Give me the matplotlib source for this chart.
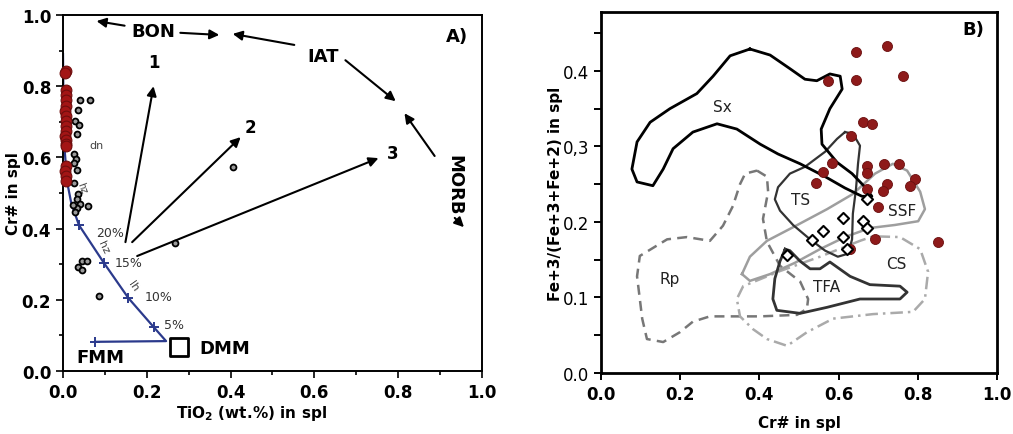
import numpy as np
import matplotlib
matplotlib.use('Agg')
import matplotlib.pyplot as plt
from matplotlib.ticker import MultipleLocator

# ---------------- Panel A data ----------------
# melting trend FMM -> DMM, then up through 5..20 % melting
melt_x = [0.077, 0.246, 0.216, 0.156, 0.098, 0.038, 0.020, 0.010, 0.004, 0.001, 0.000]
melt_y = [0.082, 0.084, 0.124, 0.205, 0.303, 0.410, 0.470, 0.530, 0.620, 0.750, 0.890]
tick_x = [0.077, 0.216, 0.156, 0.098, 0.038]
tick_y = [0.082, 0.124, 0.205, 0.303, 0.410]
melt_pct = ['5%', '10%', '15%', '20%']
pct_x = [0.266, 0.228, 0.156, 0.113]
pct_y = [0.130, 0.210, 0.305, 0.390]

red_a_x = [0.007, 0.005, 0.007, 0.006, 0.008, 0.007, 0.005, 0.007, 0.006, 0.008,
           0.007, 0.005, 0.007, 0.006, 0.008, 0.007, 0.005, 0.007, 0.006]
red_a_y = [0.843, 0.837, 0.790, 0.775, 0.761, 0.744, 0.730, 0.716, 0.702, 0.688,
           0.674, 0.660, 0.650, 0.638, 0.632, 0.576, 0.562, 0.548, 0.534]

blk_a_x = [0.041, 0.064, 0.036, 0.029, 0.038, 0.034, 0.026, 0.031, 0.026, 0.034, 0.026,
           0.036, 0.034, 0.041, 0.060, 0.034, 0.029, 0.024, 0.045, 0.057, 0.036, 0.045,
           0.087, 0.267, 0.405]
blk_a_y = [0.761, 0.761, 0.733, 0.702, 0.691, 0.666, 0.610, 0.596, 0.585, 0.565, 0.528,
           0.497, 0.483, 0.469, 0.463, 0.457, 0.446, 0.466, 0.310, 0.310, 0.292, 0.284,
           0.210, 0.360, 0.573]

# arrows: (start x, start y, end x, end y)
arrows_a = [(0.147, 0.970, 0.080, 0.983),   # BON left
            (0.280, 0.950, 0.373, 0.944),   # BON right
            (0.552, 0.916, 0.405, 0.947),   # IAT -> left
            (0.674, 0.873, 0.794, 0.758),   # IAT -> down
            (0.887, 0.604, 0.815, 0.724),   # MORB up
            (0.935, 0.430, 0.957, 0.404),   # MORB down
            (0.149, 0.362, 0.216, 0.800),   # 1
            (0.165, 0.362, 0.424, 0.657),   # 2
            (0.177, 0.323, 0.753, 0.598)]   # 3

# ---------------- Panel B data ----------------
sx_x = [0.376, 0.427, 0.477, 0.515, 0.545, 0.578, 0.604, 0.609, 0.578, 0.556, 0.558, 0.596,
        0.634, 0.667, 0.684, 0.659, 0.616, 0.566, 0.503, 0.447, 0.402, 0.343, 0.293, 0.232,
        0.182, 0.157, 0.131, 0.091, 0.078, 0.091, 0.124, 0.174, 0.242, 0.283, 0.326]
sx_y = [0.429, 0.421, 0.403, 0.389, 0.387, 0.396, 0.393, 0.376, 0.350, 0.323, 0.303, 0.279,
        0.264, 0.246, 0.234, 0.234, 0.245, 0.260, 0.277, 0.290, 0.303, 0.323, 0.330, 0.319,
        0.297, 0.270, 0.248, 0.253, 0.270, 0.306, 0.332, 0.350, 0.370, 0.393, 0.420]

ts_x = [0.616, 0.636, 0.654, 0.649, 0.644, 0.636, 0.634, 0.624, 0.598, 0.566, 0.528, 0.485,
        0.452, 0.439, 0.447, 0.477, 0.515, 0.566, 0.596]
ts_y = [0.319, 0.317, 0.301, 0.277, 0.244, 0.211, 0.177, 0.158, 0.154, 0.162, 0.177, 0.196,
        0.215, 0.230, 0.246, 0.264, 0.273, 0.293, 0.310]

tfa_x = [0.465, 0.452, 0.439, 0.434, 0.444, 0.503, 0.571, 0.654, 0.755, 0.773, 0.755, 0.679,
         0.629, 0.578, 0.553, 0.528, 0.503, 0.477]
tfa_y = [0.164, 0.148, 0.125, 0.098, 0.083, 0.079, 0.087, 0.098, 0.098, 0.107, 0.115, 0.117,
         0.128, 0.147, 0.138, 0.138, 0.148, 0.162]

ssf_x = [0.356, 0.376, 0.419, 0.485, 0.571, 0.636, 0.692, 0.737, 0.773, 0.806, 0.818, 0.801,
         0.742, 0.679, 0.616, 0.553, 0.490, 0.427, 0.376]
ssf_y = [0.131, 0.154, 0.175, 0.193, 0.217, 0.237, 0.264, 0.277, 0.268, 0.240, 0.217, 0.201,
         0.196, 0.192, 0.180, 0.164, 0.146, 0.131, 0.122]

cs_x = [0.654, 0.553, 0.452, 0.359, 0.343, 0.351, 0.384, 0.419, 0.470, 0.520, 0.586, 0.687,
        0.788, 0.818, 0.826, 0.806, 0.755, 0.687]
cs_y = [0.175, 0.154, 0.135, 0.115, 0.098, 0.075, 0.058, 0.045, 0.036, 0.054, 0.072, 0.078,
        0.081, 0.098, 0.134, 0.164, 0.180, 0.181]

rp_x = [0.394, 0.419, 0.422, 0.409, 0.419, 0.452, 0.503, 0.523, 0.520, 0.495, 0.402, 0.275,
        0.232, 0.199, 0.157, 0.116, 0.104, 0.098, 0.091, 0.098, 0.167, 0.217, 0.275, 0.308,
        0.333, 0.351, 0.364]
rp_y = [0.268, 0.260, 0.240, 0.204, 0.174, 0.142, 0.121, 0.098, 0.085, 0.077, 0.075, 0.075,
        0.068, 0.054, 0.041, 0.045, 0.072, 0.098, 0.128, 0.155, 0.177, 0.180, 0.175, 0.195,
        0.221, 0.250, 0.264]

red_b_x = [0.644, 0.722, 0.573, 0.644, 0.763, 0.662, 0.684, 0.631, 0.583, 0.561, 0.543, 0.672,
           0.672, 0.715, 0.753, 0.793, 0.780, 0.722, 0.712, 0.672, 0.700, 0.692, 0.851, 0.629]
red_b_y = [0.425, 0.433, 0.387, 0.388, 0.393, 0.332, 0.330, 0.314, 0.278, 0.266, 0.252, 0.274,
           0.265, 0.277, 0.277, 0.257, 0.248, 0.250, 0.241, 0.244, 0.220, 0.177, 0.174, 0.164]

dia_x = [0.672, 0.611, 0.662, 0.672, 0.561, 0.611, 0.533, 0.621, 0.470]
dia_y = [0.230, 0.205, 0.201, 0.192, 0.188, 0.180, 0.176, 0.164, 0.156]

fig = plt.figure(figsize=(10.13, 4.35), dpi=100)

# =============== Panel A ===============
ax1 = fig.add_axes([0.0622, 0.1448, 0.4136, 0.8184])
ax1.set_xlim(0, 1.0)
ax1.set_ylim(0, 1.0)
ax1.plot(melt_x, melt_y, color='#2b3a8c', lw=1.6, zorder=2)
ax1.plot(tick_x, tick_y, '+', color='#2b3a8c', ms=7, mew=1.4, zorder=3)
for t, px, py in zip(melt_pct, pct_x, pct_y):
    ax1.text(px, py, t, fontsize=9, color='#333333', ha='center', va='center')
ax1.text(0.096, 0.350, 'hz', fontsize=8, color='#444444', rotation=-65, ha='center', va='center')
ax1.text(0.168, 0.240, 'lh', fontsize=8, color='#444444', rotation=-55, ha='center', va='center')
ax1.text(0.045, 0.517, 'hz', fontsize=7, color='#444444', rotation=-70, ha='center', va='center')
ax1.text(0.081, 0.635, 'dn', fontsize=8, color='#444444', ha='center', va='center')

ax1.scatter(blk_a_x, blk_a_y, s=18, facecolor='#9a9a9a', edgecolor='black', lw=1.3, zorder=4)
ax1.scatter(red_a_x, red_a_y, s=60, facecolor='#a31515', edgecolor='#6e0d0d', lw=0.8,
            zorder=5, clip_on=False)

# DMM square
ax1.scatter([0.276], [0.067], marker='s', s=150, facecolor='white', edgecolor='black', lw=2, zorder=5)

for x0, y0, x1, y1 in arrows_a:
    ax1.annotate('', xy=(x1, y1), xytext=(x0, y0),
                 arrowprops=dict(arrowstyle='-|>', color='black', lw=1.5, mutation_scale=14,
                                 shrinkA=0, shrinkB=0))

bold = dict(fontsize=13, fontweight='bold', ha='center', va='center')
ax1.text(0.216, 0.955, 'BON', **bold)
ax1.text(0.620, 0.885, 'IAT', **bold)
ax1.text(0.935, 0.525, 'MORB', rotation=-90, **bold)
ax1.text(0.089, 0.040, 'FMM', **bold)
ax1.text(0.385, 0.065, 'DMM', **bold)
ax1.text(0.216, 0.868, '1', fontsize=12, fontweight='bold', ha='center', va='center')
ax1.text(0.448, 0.685, '2', fontsize=12, fontweight='bold', ha='center', va='center')
ax1.text(0.787, 0.612, '3', fontsize=12, fontweight='bold', ha='center', va='center')
ax1.text(0.940, 0.940, 'A)', **bold)

ax1.xaxis.set_minor_locator(MultipleLocator(0.1))
ax1.yaxis.set_minor_locator(MultipleLocator(0.1))
ax1.tick_params(which='both', direction='out', width=1.2, labelsize=12)
ax1.tick_params(which='major', length=5)
ax1.tick_params(which='minor', length=3)
ax1.set_xticks([0, 0.2, 0.4, 0.6, 0.8, 1.0])
ax1.set_xticklabels(['0.0', '0.2', '0.4', '0.6', '0.8', '1.0'], fontweight='bold', fontsize=12)
ax1.set_yticks([0, 0.2, 0.4, 0.6, 0.8, 1.0])
ax1.set_yticklabels(['0.0', '0.2', '0.4', '0.6', '0.8', '1.0'], fontweight='bold', fontsize=12)
for sp in ax1.spines.values():
    sp.set_linewidth(1.4)
ax1.set_xlabel(r'TiO$_\mathbf{2}$ (wt.%) in spl', fontsize=11, fontweight='bold')
ax1.xaxis.set_label_coords(0.45, -0.09)
ax1.set_ylabel('Cr# in spl', fontsize=11, fontweight='bold')
ax1.yaxis.set_label_coords(-0.1, 0.5)

# =============== Panel B ===============
ax2 = fig.add_axes([0.5933, 0.1402, 0.3909, 0.8299])
ax2.set_xlim(0, 1.0)
ax2.set_ylim(0, 0.478)

def closed(xs, ys):
    return list(xs) + [xs[0]], list(ys) + [ys[0]]

x, y = closed(rp_x, rp_y)
ax2.plot(x, y, color='#777777', lw=1.8, ls=(0, (4, 2.5)), zorder=1)
x, y = closed(cs_x, cs_y)
ax2.plot(x, y, color='#aaaaaa', lw=1.8, ls=(0, (5, 2, 1, 2)), zorder=1)
x, y = closed(ssf_x, ssf_y)
ax2.plot(x, y, color='#9e9e9e', lw=1.8, zorder=1)
x, y = closed(tfa_x, tfa_y)
ax2.plot(x, y, color='#333333', lw=2.0, zorder=2)
x, y = closed(ts_x, ts_y)
ax2.plot(x, y, color='#333333', lw=1.6, zorder=2)
x, y = closed(sx_x, sx_y)
ax2.plot(x, y, color='black', lw=2.0, zorder=2)

lab = dict(fontsize=11, color='#222222', ha='center', va='center')
ax2.text(0.306, 0.353, 'Sx', **lab)
ax2.text(0.503, 0.230, 'TS', **lab)
ax2.text(0.760, 0.215, 'SSF', **lab)
ax2.text(0.747, 0.145, 'CS', **lab)
ax2.text(0.174, 0.125, 'Rp', **lab)
ax2.text(0.570, 0.114, 'TFA', **lab)
ax2.text(0.940, 0.455, 'B)', fontsize=13, fontweight='bold', ha='center', va='center')

ax2.scatter(red_b_x, red_b_y, s=52, facecolor='#8e1a1a', edgecolor='#6a1010', lw=0.6, zorder=4)
ax2.scatter(dia_x, dia_y, marker='D', s=32, facecolor='white', edgecolor='black', lw=1.5, zorder=5)

ax2.set_xticks([0, 0.2, 0.4, 0.6, 0.8, 1.0])
ax2.set_xticklabels(['0.0', '0.2', '0.4', '0.6', '0.8', '1.0'], fontweight='bold', fontsize=12)
ax2.set_yticks([0, 0.1, 0.2, 0.3, 0.4])
ax2.set_yticklabels(['0.0', '0.1', '0.2', '0,3', '0.4'], fontsize=12)
ax2.yaxis.set_minor_locator(MultipleLocator(0.05))
ax2.tick_params(which='both', direction='out', width=1.4, length=5)
for sp in ax2.spines.values():
    sp.set_linewidth(2.0)
ax2.set_xlabel('Cr# in spl', fontsize=11, fontweight='bold')
ax2.xaxis.set_label_coords(0.5, -0.115)
ax2.set_ylabel('Fe+3/(Fe+3+Fe+2) in spl', fontsize=11, fontweight='bold')
ax2.yaxis.set_label_coords(-0.096, 0.5)

fig.savefig('out.png', dpi=100)
